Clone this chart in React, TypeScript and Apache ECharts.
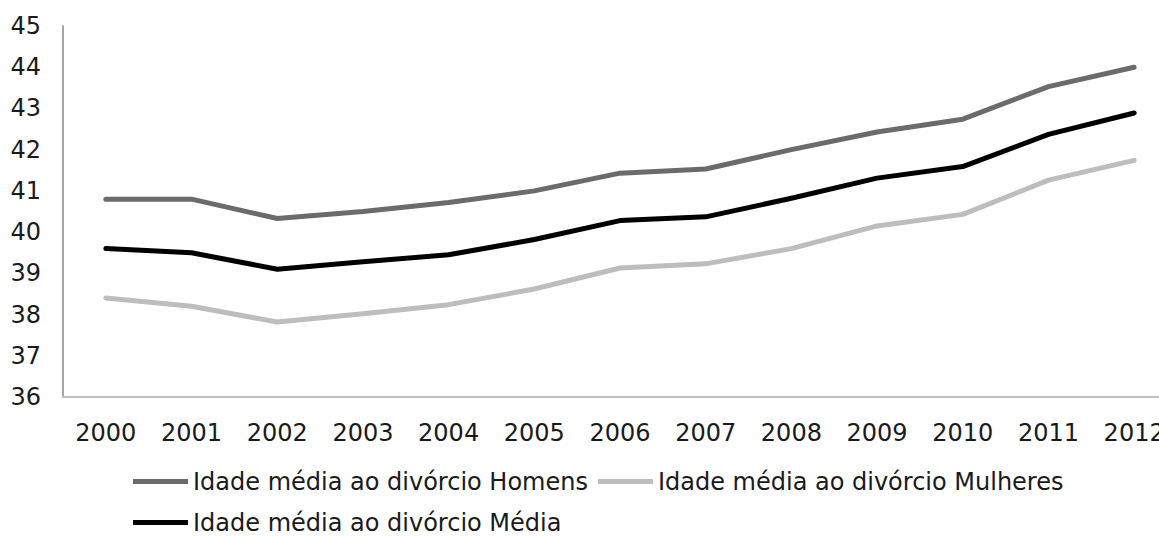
import React, { useEffect, useRef } from "react";
import * as echarts from "echarts";

const years = ["2000","2001","2002","2003","2004","2005","2006","2007","2008","2009","2010","2011","2012"];
const homens = [40.8, 40.8, 40.33, 40.5, 40.72, 41.0, 41.43, 41.53, 42.0, 42.43, 42.74, 43.53, 44.0];
const mulheres = [38.4, 38.2, 37.82, 38.02, 38.24, 38.62, 39.13, 39.23, 39.6, 40.15, 40.43, 41.26, 41.74];
const media = [39.6, 39.5, 39.1, 39.28, 39.45, 39.82, 40.28, 40.37, 40.82, 41.31, 41.59, 42.37, 42.89];
const seriesNames = [
  "Idade média ao divórcio Homens",
  "Idade média ao divórcio Mulheres",
  "Idade média ao divórcio Média",
];

export default function App() {
  const ref = useRef<HTMLDivElement>(null);
  useEffect(() => {
    if (!ref.current) return;
    const chart = echarts.init(ref.current, undefined, { renderer: "svg" });
    const font = "DejaVu Sans";
    const mk = (name: string, data: number[], color: string) => ({
      name,
      type: "line",
      data,
      symbol: "none",
      lineStyle: { width: 5, color, cap: "round", join: "round" },
      itemStyle: { color },
    });
    chart.setOption({
      animation: false,
      grid: {
        left: 63,
        top: 26,
        width: 1114,
        height: 371,
        containLabel: false,
        outerBoundsMode: "none",
      },
      xAxis: {
        type: "category",
        data: years,
        boundaryGap: true,
        axisLine: { lineStyle: { color: "#bfbfbf", width: 2 } },
        axisTick: { show: false },
        axisLabel: { color: "#1a1a1a", fontSize: 24, fontFamily: font, margin: 24, interval: 0 },
      },
      yAxis: {
        type: "value",
        min: 36,
        max: 45,
        interval: 1,
        axisLine: { show: true, lineStyle: { color: "#a6a6a6", width: 2 } },
        axisTick: { show: false },
        splitLine: { show: false },
        axisLabel: { color: "#1a1a1a", fontSize: 24, fontFamily: font, margin: 22 },
      },
      legend: {
        left: 128,
        top: 461,
        width: 1020,
        icon: "rect",
        itemWidth: 55,
        itemHeight: 5,
        itemGap: 10,
        textStyle: { color: "#1a1a1a", fontSize: 24, fontFamily: font, lineHeight: 31 },
        data: seriesNames,
      },
      series: [
        mk(seriesNames[0], homens, "#6b6b6b"),
        mk(seriesNames[1], mulheres, "#bdbdbd"),
        mk(seriesNames[2], media, "#000000"),
      ],
    });
    return () => chart.dispose();
  }, []);
  return (
    <div
      ref={ref}
      style={{ position: "fixed", left: 0, top: 0, width: 1159, height: 536, background: "#fff" }}
    />
  );
}
